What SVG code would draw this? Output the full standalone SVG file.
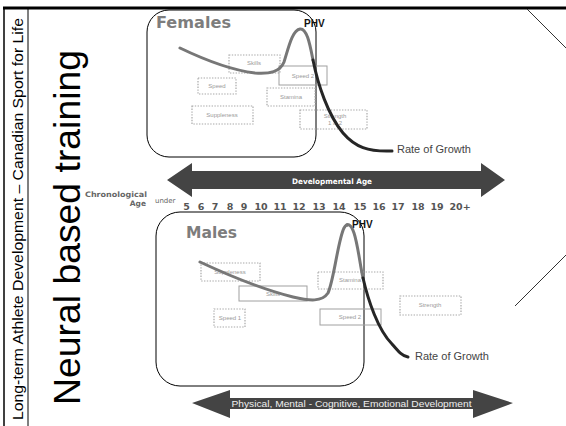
<svg xmlns="http://www.w3.org/2000/svg" width="566" height="426" viewBox="0 0 566 426">
<defs>
<style>
.frame{stroke:#000;fill:none}
.panel{fill:none;stroke:#000;stroke-width:1}
.title{font-family:"DejaVu Sans",sans-serif;font-weight:bold;fill:#7d7d7d}
.phv{font-family:"Liberation Sans",Arial,sans-serif;font-weight:bold;font-size:10px;fill:#111}
.rog{font-family:"Liberation Sans",Arial,sans-serif;font-size:11px;fill:#444}
.box{fill:none;stroke:#a8a8a8;stroke-width:1.2;stroke-dasharray:1.4 1.4}
.sbox{fill:none;stroke:#a0a0a0;stroke-width:1}
.bt{font-family:"Liberation Sans",Arial,sans-serif;font-size:6px;fill:#9a9a9a;text-anchor:middle}
.curveg{fill:none;stroke:#777;stroke-width:3;stroke-linecap:round}
.curveb{fill:none;stroke:#262626;stroke-width:3;stroke-linecap:round}
.num{font-family:"DejaVu Sans",sans-serif;font-size:9.5px;font-weight:bold;fill:#555;text-anchor:middle}
.arrow{fill:#444}
.diag{stroke:#333;stroke-width:1;fill:none}
</style>
</defs>

<g id="frame">
<line class="frame" x1="3" y1="8" x2="566" y2="8" stroke-width="3"/>
<line class="frame" x1="4" y1="8" x2="4" y2="426" stroke-width="1.5"/>
<line class="frame" x1="28" y1="8" x2="28" y2="426" stroke-width="1"/>
<line class="diag" x1="527" y1="9" x2="566" y2="48"/>
<line class="diag" x1="515" y1="306" x2="566" y2="255"/>
</g>

<g id="side-text">
<text transform="translate(23,420) rotate(-90)" font-family="Liberation Sans, Arial, sans-serif" font-size="15" fill="#000" textLength="402" lengthAdjust="spacingAndGlyphs">Long-term Athlete Development – Canadian Sport for Life</text>
<text transform="translate(80,405) rotate(-90)" font-family="Liberation Sans, Arial, sans-serif" font-size="37" fill="#000" textLength="355" lengthAdjust="spacingAndGlyphs">Neural based training</text>
</g>

<g id="females">
<rect class="panel" x="147" y="10" width="169" height="147" rx="22"/>
<text class="title" x="156" y="28" font-size="16" textLength="75" lengthAdjust="spacingAndGlyphs">Females</text>
<text class="phv" x="304" y="27">PHV</text>
<rect class="box" x="229" y="55" width="51" height="18"/>
<text class="bt" x="254" y="65">Skills</text>
<rect class="sbox" x="279" y="66" width="48" height="19"/>
<text class="bt" x="303" y="78">Speed 2</text>
<rect class="box" x="198" y="78" width="38" height="16"/>
<text class="bt" x="217" y="88">Speed</text>
<rect class="box" x="267" y="88" width="48" height="18"/>
<text class="bt" x="291" y="99">Stamina</text>
<rect class="box" x="192" y="106" width="61" height="18"/>
<text class="bt" x="222" y="117">Suppleness</text>
<rect class="box" x="300" y="110" width="67" height="19"/>
<text class="bt" x="335" y="118">Strength</text>
<text class="bt" x="335" y="125">1 &amp; 2</text>
<path class="curveg" d="M180,48 C205,60 230,70 255,73 C270,74 280,72 284,62 C288,50 292,30 300,29 C307,28 310,45 313,60"/>
<path class="curveb" d="M313,60 C318,85 328,115 343,133 C355,147 368,152 392,151"/>
<text class="rog" x="397" y="153">Rate of Growth</text>
</g>

<g id="dev-age-arrow">
<polygon class="arrow" points="167,180 192,163 192,171 481,171 481,163 505,180 481,197 481,189 192,189 192,197"/>
<text x="332" y="183.5" font-family="DejaVu Sans, sans-serif" font-size="7.5" font-weight="bold" fill="#fff" text-anchor="middle" textLength="80" lengthAdjust="spacingAndGlyphs">Developmental Age</text>
</g>

<g id="chrono-age">
<text x="147" y="197" font-family="DejaVu Sans, sans-serif" font-size="7.5" font-weight="bold" fill="#666" text-anchor="end" textLength="62" lengthAdjust="spacingAndGlyphs">Chronological</text>
<text x="146" y="206" font-family="DejaVu Sans, sans-serif" font-size="7.5" font-weight="bold" fill="#666" text-anchor="end">Age</text>
<text x="155" y="203" font-family="DejaVu Sans, sans-serif" font-size="7" fill="#666">under</text>
<text class="num" x="186.5" y="210">5</text>
<text class="num" x="201" y="210">6</text>
<text class="num" x="215" y="210">7</text>
<text class="num" x="230" y="210">8</text>
<text class="num" x="244" y="210">9</text>
<text class="num" x="261" y="210">10</text>
<text class="num" x="280" y="210">11</text>
<text class="num" x="299" y="210">12</text>
<text class="num" x="319" y="210">13</text>
<text class="num" x="339" y="210">14</text>
<text class="num" x="360" y="210">15</text>
<text class="num" x="379" y="210">16</text>
<text class="num" x="398" y="210">17</text>
<text class="num" x="418" y="210">18</text>
<text class="num" x="437" y="210">19</text>
<text class="num" x="460" y="210">20+</text>
</g>

<g id="males">
<rect class="panel" x="156" y="212" width="208" height="174" rx="24"/>
<text class="title" x="186" y="238" font-size="16" textLength="51" lengthAdjust="spacingAndGlyphs">Males</text>
<circle cx="347" cy="225" r="1.5" fill="#111"/>
<text class="phv" x="352" y="228">PHV</text>
<rect class="box" x="201" y="263" width="59" height="18"/>
<text class="bt" x="230" y="274">Suppleness</text>
<rect class="sbox" x="239" y="286" width="68" height="15"/>
<text class="bt" x="273" y="296">Skills</text>
<rect class="box" x="214" y="309" width="31" height="18"/>
<text class="bt" x="230" y="320">Speed 1</text>
<rect class="box" x="318" y="272" width="65" height="17"/>
<text class="bt" x="350" y="282">Stamina</text>
<rect class="sbox" x="320" y="309" width="61" height="16"/>
<text class="bt" x="350" y="319">Speed 2</text>
<rect class="box" x="400" y="296" width="61" height="19"/>
<text class="bt" x="430" y="307">Strength</text>
<path class="curveg" d="M200,262 C230,276 265,290 293,297 C310,301 322,302 328,293 C334,280 338,240 344,228 C347,222 351,224 354,233 C358,245 360,265 363,278"/>
<path class="curveb" d="M363,278 C368,300 378,330 392,344 C398,351 402,356 408,357"/>
<text class="rog" x="415" y="360">Rate of Growth</text>
</g>

<g id="development-arrow">
<polygon class="arrow" points="192,403 230,390 230,398 473,398 473,390 513,403 473,418 473,409 230,409 230,418"/>
<text x="351.5" y="406.5" font-family="Liberation Sans, Arial, sans-serif" font-size="9" fill="#eee" text-anchor="middle" textLength="240" lengthAdjust="spacingAndGlyphs">Physical, Mental - Cognitive, Emotional Development</text>
</g>
</svg>
